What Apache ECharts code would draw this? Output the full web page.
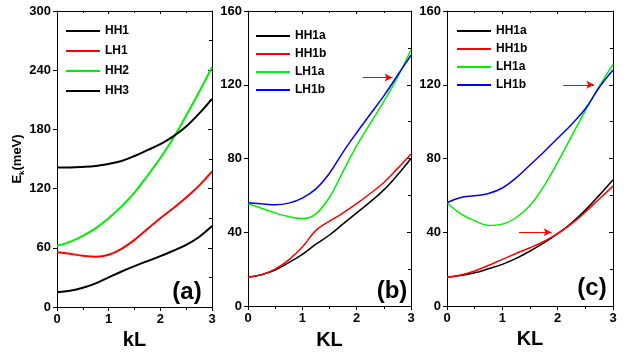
<!DOCTYPE html>
<html>
<head>
<meta charset="utf-8">
<script src="https://cdn.jsdelivr.net/npm/echarts@6/dist/echarts.min.js"></script>
<style>
  html, body { margin: 0; padding: 0; background: #fff; }
  #chart { width: 629px; height: 356px; }
</style>
</head>
<body>
<div id="chart"></div>
<script>
// k sampling points (shared by all panels)
const kPoints = [0, 0.25, 0.5, 0.75, 1, 1.25, 1.5, 1.75, 2, 2.25, 2.5, 2.75, 3];

// panel (a)
const aHH1 = [15, 16.5, 19.5, 24, 30, 36, 41.5, 46.5, 51.5, 57, 63, 71, 82];
const aLH1 = [55.6, 54, 52, 51, 53, 59, 68, 79, 90, 100, 111, 123, 137.5];
const aHH2 = [62, 66, 72, 80, 90, 102, 116, 133, 151, 171, 194, 218, 243];
const aHH3 = [141.5, 141.5, 142, 143, 145, 148, 153, 159, 165, 173, 183, 196, 211];

// panel (b)
const bHH1a = [15.6, 17, 19.5, 23.5, 28, 33.5, 38.5, 44.5, 50.5, 56.5, 63, 71, 80];
const bHH1b = [15.6, 17, 20, 25, 32, 41, 46, 50.5, 55.5, 61, 67, 74.5, 82.5];
const bLH1a = [55.6, 53, 50.5, 48.5, 47.4, 50, 59, 73, 87, 99, 111, 124, 139];
const bLH1b = [56, 55.4, 54.9, 55.8, 58.5, 63.5, 72, 83.5, 94, 104, 114, 125, 136];

// panel (c)
const cHH1a = [15.6, 16.5, 18, 20.2, 22.6, 25.8, 29.8, 34.2, 39.2, 45, 52, 60, 68.5];
const cHH1b = [15.6, 16.8, 19, 22, 25.3, 28.5, 31.6, 35, 39.2, 44.5, 51, 58, 65];
const cLH1a = [56, 50, 46.3, 43.7, 44.4, 48, 54.5, 65, 78, 92, 106, 119, 131];
const cLH1b = [56, 58.8, 59.8, 61, 64, 69.5, 76.5, 83.5, 91, 98.5, 107, 118.5, 128];

// arrows: [fromK, toK, energy]
const arrowsB = [[2.11, 2.66, 124]];
const arrowsC = [[2.1, 2.66, 120], [1.3, 1.89, 40]];

const xTicks = [0, 1, 2, 3];
const yTicksA = [0, 60, 120, 180, 240, 300];
const yTicksBC = [0, 40, 80, 120, 160];

const FONT = 'Liberation Sans, Arial, sans-serif';
const COLORS = { black: '#000000', red: '#ff0000', green: '#00ee00', blue: '#0000ff' };

const chart = echarts.init(document.getElementById('chart'));

const grids = [
  { left: 57, top: 11, width: 155, height: 296 },
  { left: 248, top: 11, width: 163, height: 295 },
  { left: 447, top: 11, width: 166, height: 295 }
];

const xNames = ['kL', 'KL', 'KL'];
const xNameGaps = [18, 24, 23];
const yMax = [yTicksA[yTicksA.length - 1], yTicksBC[yTicksBC.length - 1], yTicksBC[yTicksBC.length - 1]];
const yStep = [yTicksA[1] - yTicksA[0], yTicksBC[1] - yTicksBC[0], yTicksBC[1] - yTicksBC[0]];

const xAxis = [];
const yAxis = [];
grids.forEach((g, i) => {
  // bottom axis with labels
  xAxis.push({
    type: 'value', gridIndex: i, min: xTicks[0], max: xTicks[xTicks.length - 1], interval: 1,
    position: 'bottom',
    name: xNames[i], nameLocation: 'middle', nameGap: xNameGaps[i],
    nameTextStyle: { fontFamily: FONT, fontWeight: 'bold', fontSize: 20, color: '#000' },
    axisLine: { show: true, onZero: false, lineStyle: { color: '#000', width: 1 } },
    axisTick: { show: true, inside: false, length: 4, lineStyle: { color: '#000' } },
    minorTick: { show: true, splitNumber: 2, length: 3, lineStyle: { color: '#000' } },
    axisLabel: { fontFamily: FONT, fontWeight: 'bold', fontSize: 13, color: '#000', margin: 6 },
    splitLine: { show: false }
  });
  // top mirror axis
  xAxis.push({
    type: 'value', gridIndex: i, min: xTicks[0], max: xTicks[xTicks.length - 1], interval: 1,
    position: 'top',
    axisLine: { show: true, onZero: false, lineStyle: { color: '#000', width: 1 } },
    axisTick: { show: true, inside: true, length: 3, lineStyle: { color: '#000' } },
    minorTick: { show: true, splitNumber: 2, length: 2, lineStyle: { color: '#000' } },
    axisLabel: { show: false },
    splitLine: { show: false }
  });
  // left axis with labels
  yAxis.push({
    type: 'value', gridIndex: i, min: 0, max: yMax[i], interval: yStep[i],
    position: 'left',
    name: i === 0 ? '{a|E}{s|k}{a|(meV)}' : '',
    nameLocation: 'middle', nameGap: 27, nameRotate: 90,
    nameTextStyle: {
      color: '#000',
      rich: {
        a: { fontFamily: FONT, fontWeight: 'bold', fontSize: 13, color: '#000' },
        s: { fontFamily: FONT, fontWeight: 'bold', fontSize: 8, color: '#000', verticalAlign: 'bottom', padding: [8, 0, 0, 0] }
      }
    },
    axisLine: { show: true, onZero: false, lineStyle: { color: '#000', width: 1 } },
    axisTick: { show: true, inside: false, length: 4, lineStyle: { color: '#000' } },
    axisLabel: { fontFamily: FONT, fontWeight: 'bold', fontSize: 13, color: '#000', margin: 6 },
    splitLine: { show: false }
  });
  // right mirror axis
  yAxis.push({
    type: 'value', gridIndex: i, min: 0, max: yMax[i], interval: yStep[i],
    position: 'right',
    axisLine: { show: true, onZero: false, lineStyle: { color: '#000', width: 1 } },
    axisTick: { show: true, inside: true, length: 4, lineStyle: { color: '#000' } },
    minorTick: { show: true, splitNumber: 2, length: 3, lineStyle: { color: '#000' } },
    axisLabel: { show: false },
    splitLine: { show: false }
  });
});

function pairs(ys) {
  return kPoints.map((k, j) => [k, ys[j]]);
}

function makeSeries(panel, name, ys, color, width, arrows) {
  const s = {
    type: 'line', name: name, xAxisIndex: panel * 2, yAxisIndex: panel * 2,
    data: pairs(ys), smooth: 0.4, symbol: 'none', showSymbol: false,
    lineStyle: { color: color, width: width }, itemStyle: { color: color },
    z: 3, silent: true
  };
  if (arrows) {
    s.markLine = {
      silent: true, symbol: ['none', 'arrow'], symbolSize: [6, 8],
      label: { show: false },
      lineStyle: { color: '#ff0000', width: 1, type: 'solid' },
      data: arrows.map(a => [{ coord: [a[0], a[2]] }, { coord: [a[1], a[2]] }])
    };
  }
  return s;
}

const series = [
  makeSeries(0, 'HH1', aHH1, COLORS.black, 2),
  makeSeries(0, 'LH1', aLH1, COLORS.red, 2),
  makeSeries(0, 'HH2', aHH2, COLORS.green, 2),
  makeSeries(0, 'HH3', aHH3, COLORS.black, 2),
  makeSeries(1, 'HH1a', bHH1a, COLORS.black, 1.5),
  makeSeries(1, 'HH1b', bHH1b, COLORS.red, 1.5, arrowsB),
  makeSeries(1, 'LH1a', bLH1a, COLORS.green, 1.5),
  makeSeries(1, 'LH1b', bLH1b, COLORS.blue, 1.5),
  makeSeries(2, 'HH1a', cHH1a, COLORS.black, 1.5),
  makeSeries(2, 'HH1b', cHH1b, COLORS.red, 1.5, arrowsC),
  makeSeries(2, 'LH1a', cLH1a, COLORS.green, 1.5),
  makeSeries(2, 'LH1b', cLH1b, COLORS.blue, 1.5)
];

function legendAt(left, top, names, gap, colors) {
  return {
    left: left, top: top, orient: 'vertical', itemGap: gap,
    icon: 'rect', itemWidth: 34, itemHeight: 2,
    selectedMode: false,
    textStyle: { fontFamily: FONT, fontWeight: 'bold', fontSize: 12, color: '#000', lineHeight: 14 },
    data: names.map((n, j) => ({ name: n, itemStyle: { color: colors[j] } }))
  };
}

const legend = [
  legendAt(61, 19, ['HH1', 'LH1', 'HH2', 'HH3'], 6,
    [COLORS.black, COLORS.red, COLORS.green, COLORS.black]),
  legendAt(251, 24, ['HH1a', 'HH1b', 'LH1a', 'LH1b'], 4,
    [COLORS.black, COLORS.red, COLORS.green, COLORS.blue]),
  legendAt(452, 19, ['HH1a', 'HH1b', 'LH1a', 'LH1b'], 4,
    [COLORS.black, COLORS.red, COLORS.green, COLORS.blue])
];

const panelLabels = [
  { text: '(a)', x: 187, y: 292 },
  { text: '(b)', x: 392, y: 291 },
  { text: '(c)', x: 592, y: 288 }
];

chart.setOption({
  animation: false,
  backgroundColor: '#fff',
  grid: grids,
  xAxis: xAxis,
  yAxis: yAxis,
  legend: legend,
  series: series,
  graphic: panelLabels.map(p => ({
    type: 'text', x: p.x, y: p.y, z: 10,
    style: {
      text: p.text, fontFamily: FONT, fontWeight: 'bold', fontSize: 24,
      fill: '#000', align: 'center', verticalAlign: 'middle'
    }
  }))
});
</script>
</body>
</html>
